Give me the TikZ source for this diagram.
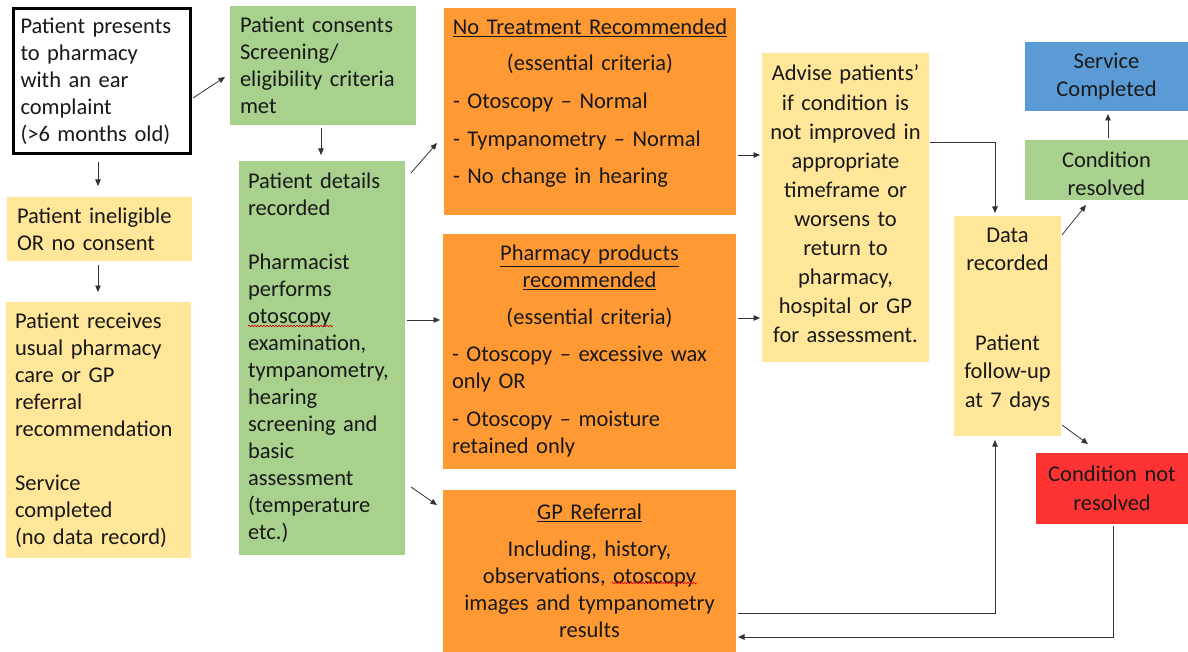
\documentclass[tikz,border=0pt]{standalone}
\usepackage{fontspec}
\setmainfont{Carlito}
\usetikzlibrary{arrows.meta,calc,decorations.pathmorphing}
\definecolor{yel}{HTML}{FFE699}
\definecolor{grn}{HTML}{A9D18E}
\definecolor{org}{HTML}{FF9933}
\definecolor{blu}{HTML}{5B9BD5}
\definecolor{rd}{HTML}{FF3333}
\begin{document}
\begin{tikzpicture}[x=1pt,y=-1pt,
  bx/.style={outer sep=0pt, inner ysep=0pt, text=black!90, font=\fontsize{22.5}{27}\selectfont},
  arr/.style={-{Triangle[length=6.5pt,width=5.5pt]}, line width=0.8pt, draw=black!80},
  squig/.style={draw=red!85!black, line width=0.6pt, decorate, decoration={snake, amplitude=0.8pt, segment length=3pt}}]
\useasboundingbox (0,0) rectangle (1188,652);

\node[bx, draw=black, line width=3pt, fill=white, minimum width=177pt, minimum height=145pt, text width=162pt, inner xsep=7.5pt, align=left] (start) at (101.5,81)
 {Patient presents\\ to pharmacy\\ with an ear\\ complaint\\ (>6 months old)};
\node[bx, fill=yel, minimum width=185pt, minimum height=64pt, text width=165pt, inner xsep=10pt, align=left] (inel) at (99.5,229)
 {Patient ineligible\\ OR no consent};
\node[bx, fill=yel, minimum width=185pt, minimum height=256pt, text width=167pt, inner xsep=9pt, align=left] (rec) at (98.5,430)
 {Patient receives\\ usual pharmacy\\ care or GP\\ referral\\ recommendation\\[27pt] Service\\ completed\\ (no data record)};
\node[bx, fill=grn, minimum width=186pt, minimum height=119pt, text width=166pt, inner xsep=10pt, align=left] (cons) at (323,65.5)
 {Patient consents\\ Screening/\\ eligibility criteria\\ met};
\node[bx, fill=grn, minimum width=166pt, minimum height=394pt, text width=148pt, inner xsep=9pt, align=left] (det) at (322,358)
 {Patient details\\ recorded\\[27pt] Pharmacist\\ performs\\ otoscopy\\ examination,\\ tympanometry,\\ hearing\\ screening and\\ basic\\ assessment\\ (temperature\\ etc.)};
\node[bx, fill=org, minimum width=292pt, minimum height=207pt, text width=274pt, inner xsep=9pt, align=left] (notr) at (590,111.5)
 {\makebox[\hsize][c]{\underline{No Treatment Recommended}}\\[9pt]
  \makebox[\hsize][c]{(essential criteria)}\\[11pt]
  - Otoscopy – Normal\\[11pt]
  - Tympanometry – Normal\\[10pt]
  - No change in hearing\rule[-20pt]{0pt}{20pt}};
\node[bx, fill=org, minimum width=293pt, minimum height=235pt, text width=275pt, inner xsep=9pt, align=left] (pharm) at (589.5,351.5)
 {\makebox[\hsize][c]{\underline{Pharmacy products}}\\
  \makebox[\hsize][c]{\underline{recommended}}\\[10pt]
  \makebox[\hsize][c]{(essential criteria)}\\[10pt]
  - Otoscopy – excessive wax\\ only OR\\[11pt]
  - Otoscopy – moisture\\ retained only};
\node[bx, fill=org, minimum width=293pt, minimum height=162pt, text width=275pt, inner xsep=9pt, align=center] (gp) at (589.5,571)
 {\underline{GP Referral}\\[10pt] Including, history,\\ observations, otoscopy\\ images and tympanometry\\ results};
\node[bx, fill=yel, minimum width=167pt, minimum height=309pt, text width=159pt, inner xsep=4pt, align=center, font=\fontsize{22.5}{29.1}\selectfont] (adv) at (845.5,207.5)
 {Advise patients’\\ if condition is\\ not improved in\\ appropriate\\ timeframe or\\ worsens to\\ return to\\ pharmacy,\\ hospital or GP\\ for assessment.\rule[-7pt]{0pt}{7pt}};
\node[bx, fill=yel, minimum width=107pt, minimum height=220pt, text width=103pt, inner xsep=2pt, align=center, font=\fontsize{22.5}{28.5}\selectfont] (data) at (1007.5,326)
 {Data\\ recorded\\[51pt] Patient\\ follow-up\\ at 7 days\rule[-17pt]{0pt}{17pt}};
\node[bx, fill=blu, minimum width=163pt, minimum height=69pt, text width=155pt, inner xsep=4pt, align=center, font=\fontsize{22.5}{28}\selectfont] (svc) at (1106.5,76.5)
 {Service\\ Completed};
\node[bx, fill=grn, minimum width=163pt, minimum height=60pt, text width=155pt, inner xsep=4pt, align=center, font=\fontsize{22.5}{28}\selectfont] (res) at (1106.5,170)
 {\rule{0pt}{24pt}Condition\\ resolved};
\node[bx, fill=rd, minimum width=152pt, minimum height=71pt, text width=146pt, inner xsep=3pt, align=center, font=\fontsize{22.5}{29}\selectfont] (nres) at (1112,488.5)
 {Condition not\\ resolved};

% spelling squiggles
\draw[squig] (248,326) -- (333,326);
\draw[squig] (612,583) -- (697,583);

% connectors
\draw[arr] ($(start.south)+(-3.5,8.5)$) -- ($(inel.north)+(-1.5,-11)$);
\draw[arr] ($(inel.south)+(-1.5,4)$) -- ($(rec.north)+(-0.5,-10)$);
\draw[arr] ($(start.east)+(3,17)$) -- ($(cons.west)+(-5,11.5)$);
\draw[arr] ($(cons.south)+(-2,3)$) -- ($(det.north)+(-1,-6)$);
\draw[arr] ($(det.east)+(6,-185)$) -- ($(notr.west)+(-7,31.5)$);
\draw[arr] ($(det.east)+(2,-38)$) -- ($(pharm.west)+(-3,-31.5)$);
\draw[arr] ($(det.east)+(6,129)$) -- ($(gp.west)+(-6,-66)$);
\draw[arr] ($(notr.east)+(2,43.5)$) -- ($(adv.west)+(-2,-52.5)$);
\draw[arr] ($(pharm.east)+(2,-33.5)$) -- ($(adv.west)+(-2,110.5)$);
\draw[arr] ($(adv.east)+(1,-65.5)$) -| ($(data.north)+(-12.5,-3)$);
\draw[arr] ($(data.east)+(1,-91)$) -- ($(res.south)+(-20.5,5)$);
\draw[arr] ($(res.north)+(1.5,-2)$) -- ($(svc.south)+(1.5,3)$);
\draw[arr] ($(data.east)+(1,99)$) -- ($(nres.north)+(-24,-9)$);
\draw[arr] ($(gp.east)+(2,42)$) -| ($(data.south)+(-12.5,4)$);
\draw[arr] ($(nres.south)+(1,2)$) |- ($(gp.east)+(2,66)$);
\end{tikzpicture}
\end{document}
